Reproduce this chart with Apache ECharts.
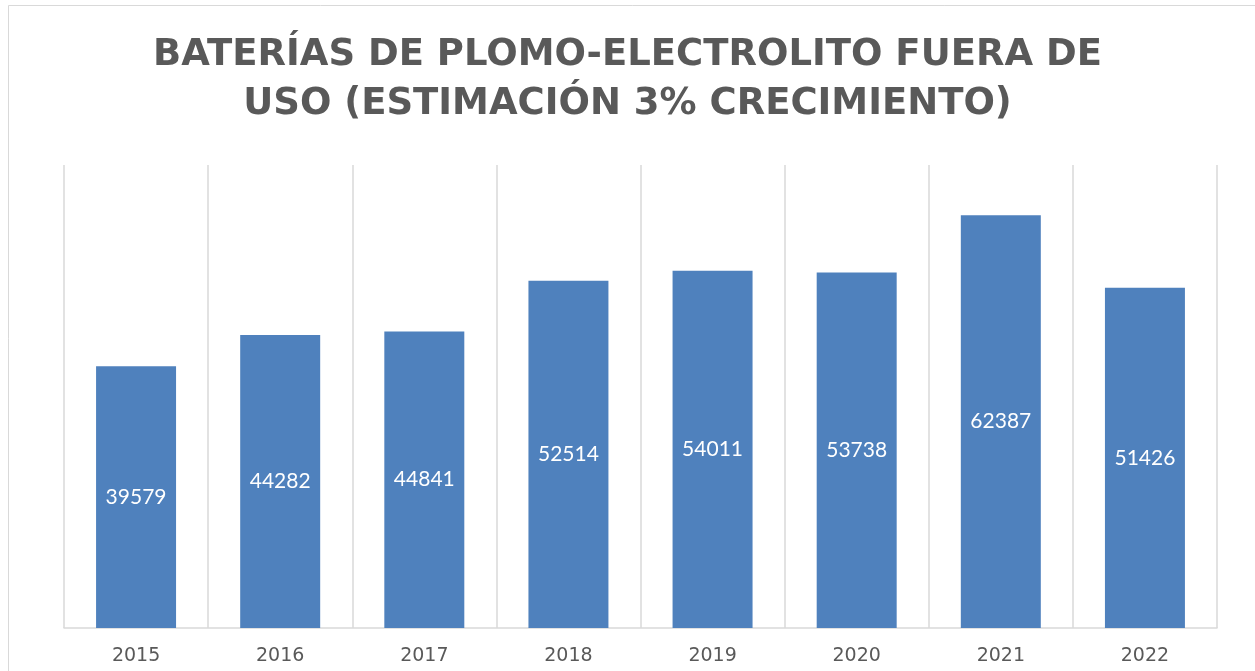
<!DOCTYPE html>
<html>
<head>
<meta charset="utf-8">
<title>Baterías de plomo-electrolito fuera de uso</title>
<script src="https://cdn.jsdelivr.net/npm/echarts@6/dist/echarts.min.js"></script>
<style>
  html, body { margin: 0; padding: 0; background: #fff; }
  #chart { width: 1255px; height: 671px; }
</style>
</head>
<body>
<div id="chart"></div>
<script>
// datos
var years = ["2015", "2016", "2017", "2018", "2019", "2020", "2021", "2022"];
var batteries = [39579, 44282, 44841, 52514, 54011, 53738, 62387, 51426];
var yMax = 70000;

var chart = echarts.init(document.getElementById("chart"));

var option = {
  backgroundColor: "#ffffff",
  animation: false,
  title: {
    text: "BATERÍAS DE PLOMO-ELECTROLITO FUERA DE\nUSO (ESTIMACIÓN 3% CRECIMIENTO)",
    left: "center",
    top: 26,
    textStyle: {
      fontFamily: "DejaVu Sans",
      fontWeight: "bold",
      fontSize: 37,
      lineHeight: 49,
      color: "#595959"
    }
  },
  graphic: [
    {
      type: "rect",
      shape: { x: 8.5, y: 5.5, width: 1260, height: 700 },
      style: { fill: null, stroke: "#d9d9d9", lineWidth: 1 },
      silent: true
    }
  ],
  grid: {
    left: 64,
    right: 38,
    top: 165,
    bottom: 43
  },
  xAxis: {
    type: "category",
    data: years,
    boundaryGap: true,
    axisLine: { lineStyle: { color: "#d9d9d9", width: 1.5 } },
    axisTick: { show: false },
    splitLine: { show: true, lineStyle: { color: "#d9d9d9", width: 1.5 } },
    axisLabel: {
      color: "#595959",
      fontFamily: "DejaVu Sans",
      fontSize: 19,
      margin: 19
    }
  },
  yAxis: {
    type: "value",
    min: 0,
    max: yMax,
    show: false,
    splitLine: { show: false }
  },
  series: [
    {
      name: "Baterías",
      type: "bar",
      data: batteries,
      barWidth: "55.5%",
      itemStyle: { color: "#4f81bd" },
      label: {
        show: true,
        position: "inside",
        color: "#ffffff",
        fontFamily: "Lato",
        fontSize: 21
      }
    }
  ]
};

chart.setOption(option);
</script>
</body>
</html>
